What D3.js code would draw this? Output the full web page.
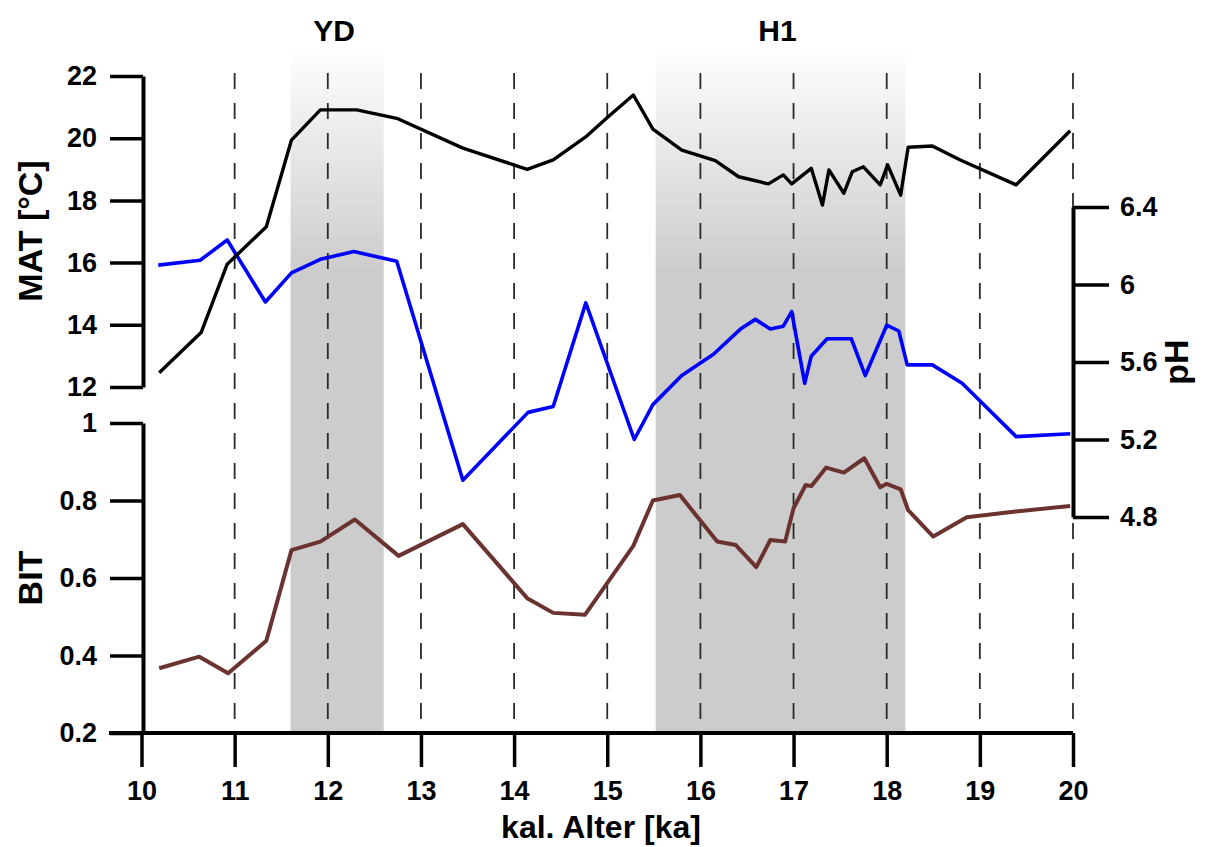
<!DOCTYPE html>
<html>
<head>
<meta charset="utf-8">
<script src="https://cdn.jsdelivr.net/npm/d3@7"></script>
<style>
  body { margin: 0; background: #fff; }
  svg text { font-family: "Liberation Sans", Arial, sans-serif; font-weight: bold; fill: #000; }
</style>
</head>
<body>
<svg width="1220" height="847"></svg>
<script>
// ages in ka
var matAge = [10.19, 10.64, 10.92, 11.34, 11.61, 11.92, 12.31, 12.74, 13.45, 14.14, 14.42, 14.78, 15.01, 15.28, 15.49, 15.80, 16.16, 16.41, 16.73, 16.89, 16.98, 17.19, 17.31, 17.38, 17.54, 17.63, 17.75, 17.93, 18.01, 18.15, 18.23, 18.49, 18.79, 19.39, 19.97];
var matValues = [12.46, 13.75, 15.95, 17.15, 19.94, 20.91, 20.91, 20.64, 19.68, 19.0, 19.3, 20.07, 20.69, 21.39, 20.29, 19.62, 19.28, 18.76, 18.53, 18.82, 18.53, 19.03, 17.85, 18.98, 18.23, 18.92, 19.08, 18.5, 19.14, 18.17, 19.71, 19.75, 19.3, 18.5, 20.24];

var phAge = [10.18, 10.63, 10.92, 11.33, 11.61, 11.92, 12.28, 12.74, 13.45, 14.15, 14.42, 14.77, 15.29, 15.49, 15.80, 16.14, 16.43, 16.59, 16.75, 16.89, 16.98, 17.12, 17.19, 17.36, 17.62, 17.77, 18.00, 18.13, 18.22, 18.49, 18.81, 19.39, 19.97];
var phValues = [6.10, 6.125, 6.23, 5.91, 6.06, 6.13, 6.17, 6.12, 4.99, 5.34, 5.37, 5.905, 5.20, 5.38, 5.53, 5.64, 5.77, 5.82, 5.77, 5.785, 5.86, 5.49, 5.63, 5.72, 5.72, 5.53, 5.79, 5.76, 5.585, 5.585, 5.49, 5.215, 5.23];

var bitAge = [10.19, 10.62, 10.93, 11.34, 11.61, 11.92, 12.29, 12.76, 13.45, 14.14, 14.42, 14.76, 15.28, 15.49, 15.78, 16.18, 16.38, 16.60, 16.75, 16.91, 17.00, 17.13, 17.19, 17.35, 17.54, 17.76, 17.93, 18.00, 18.15, 18.23, 18.50, 18.86, 19.36, 19.97];
var bitValues = [0.367, 0.397, 0.354, 0.438, 0.672, 0.694, 0.751, 0.657, 0.739, 0.548, 0.51, 0.505, 0.683, 0.80, 0.814, 0.694, 0.685, 0.628, 0.698, 0.694, 0.78, 0.84, 0.837, 0.885, 0.872, 0.909, 0.834, 0.843, 0.829, 0.775, 0.707, 0.757, 0.771, 0.786];

// cold events (shaded)
var eventNames = ["YD", "H1"];
var eventStart = [11.6, 15.52];
var eventEnd = [12.6, 18.2];

var xTicks = [10, 11, 12, 13, 14, 15, 16, 17, 18, 19, 20];
var matTicks = [12, 14, 16, 18, 20, 22];
var phTicks = [4.8, 5.2, 5.6, 6, 6.4];
var bitTicks = [0.2, 0.4, 0.6, 0.8, 1];

var svg = d3.select("svg");

var x = d3.scaleLinear().domain([10, 20]).range([141.5, 1073]);
var yMat = d3.scaleLinear().domain([12, 22]).range([387, 76]);
var yPh = d3.scaleLinear().domain([4.8, 6.4]).range([517, 207]);
var yBit = d3.scaleLinear().domain([0.2, 1]).range([733, 423]);

var bandTop = 45;
var fmt = d3.format("~g");

var defs = svg.append("defs");
var grad = defs.append("linearGradient")
    .attr("id", "fade")
    .attr("gradientUnits", "userSpaceOnUse")
    .attr("x1", 0).attr("x2", 0)
    .attr("y1", bandTop).attr("y2", 733);
grad.append("stop").attr("offset", 0).attr("stop-color", "#ffffff");
grad.append("stop").attr("offset", 0.33).attr("stop-color", "#cccccc");
grad.append("stop").attr("offset", 1).attr("stop-color", "#cccccc");

// bands
svg.append("g").selectAll("rect")
  .data(eventNames)
  .enter().append("rect")
    .attr("x", function(d, i) { return x(eventStart[i]); })
    .attr("width", function(d, i) { return x(eventEnd[i]) - x(eventStart[i]); })
    .attr("y", bandTop)
    .attr("height", 733 - bandTop)
    .attr("fill", "url(#fade)");

svg.append("g").selectAll("text")
  .data(eventNames)
  .enter().append("text")
    .attr("x", function(d, i) { return x((eventStart[i] + eventEnd[i]) / 2) - 3; })
    .attr("y", 41)
    .attr("text-anchor", "middle")
    .style("font-size", "30px")
    .text(function(d) { return d; });

// dashed verticals
svg.append("g").selectAll("line")
  .data(xTicks.slice(1))
  .enter().append("line")
    .attr("x1", function(d) { return x(d); })
    .attr("x2", function(d) { return x(d); })
    .attr("y1", 73)
    .attr("y2", 733)
    .attr("stroke", "#2a2a2a")
    .attr("stroke-width", 1.8)
    .attr("stroke-dasharray", "16,14");

// data lines
function drawLine(ages, vals, y, color, w) {
  var line = d3.line()
      .x(function(d, i) { return x(ages[i]); })
      .y(function(d) { return y(d); });
  svg.append("path")
      .datum(vals)
      .attr("d", line)
      .attr("fill", "none")
      .attr("stroke", color)
      .attr("stroke-width", w)
      .attr("stroke-linejoin", "round");
}
drawLine(bitAge, bitValues, yBit, "#6b3330", 4);
drawLine(phAge, phValues, yPh, "#0000ff", 3.6);
drawLine(matAge, matValues, yMat, "#000000", 3.4);

// axes
function styleAxis(g, w) {
  g.selectAll(".domain").attr("stroke", "#000").attr("stroke-width", 4);
  g.selectAll(".tick line").attr("stroke", "#000").attr("stroke-width", w);
  g.selectAll("text").style("font-size", "27px");
}
function minors(major) {
  var out = [];
  for (var i = 0; i < major.length - 1; i++) out.push((major[i] + major[i + 1]) / 2);
  return out;
}

// MAT left
var gMat = svg.append("g").attr("transform", "translate(143,0)");
gMat.call(d3.axisLeft(yMat).tickValues(minors(matTicks)).tickSize(18).tickFormat("").tickSizeOuter(0));
gMat.call(d3.axisLeft(yMat).tickValues(matTicks).tickSize(33).tickPadding(13).tickFormat(fmt).tickSizeOuter(0));
styleAxis(gMat, 3.5);

// BIT left
var gBit = svg.append("g").attr("transform", "translate(143,0)");
gBit.call(d3.axisLeft(yBit).tickValues(minors(bitTicks)).tickSize(18).tickFormat("").tickSizeOuter(0));
gBit.call(d3.axisLeft(yBit).tickValues(bitTicks).tickSize(33).tickPadding(13).tickFormat(fmt).tickSizeOuter(0));
styleAxis(gBit, 3.5);

// pH right
var gPh = svg.append("g").attr("transform", "translate(1073,0)");
gPh.call(d3.axisRight(yPh).tickValues(minors(phTicks)).tickSize(20).tickFormat("").tickSizeOuter(0));
gPh.call(d3.axisRight(yPh).tickValues(phTicks).tickSize(36).tickPadding(11).tickFormat(fmt).tickSizeOuter(0));
styleAxis(gPh, 3.5);

// x bottom
var xMinor = xTicks.slice(0, -1).map(function(d) { return d + 0.5; });
var gX = svg.append("g").attr("transform", "translate(0,733)");
gX.call(d3.axisBottom(x).tickValues(xMinor).tickSize(18).tickFormat("").tickSizeOuter(0));
gX.call(d3.axisBottom(x).tickValues(xTicks).tickSize(34).tickPadding(14).tickFormat(d3.format("d")).tickSizeOuter(0));
styleAxis(gX, 3.5);
gX.select(".domain").attr("d", "M109,0H1073");

// axis titles
svg.append("text")
    .attr("transform", "translate(42,231) rotate(-90)")
    .attr("text-anchor", "middle")
    .style("font-size", "34px")
    .text("MAT [°C]");
svg.append("text")
    .attr("transform", "translate(42,578) rotate(-90)")
    .attr("text-anchor", "middle")
    .style("font-size", "34px")
    .text("BIT");
svg.append("text")
    .attr("transform", "translate(1188,362) rotate(-90)")
    .attr("text-anchor", "middle")
    .style("font-size", "34px")
    .text("pH");
svg.append("text")
    .attr("x", 601)
    .attr("y", 838)
    .attr("text-anchor", "middle")
    .style("font-size", "32px")
    .text("kal. Alter [ka]");
</script>
</body>
</html>
